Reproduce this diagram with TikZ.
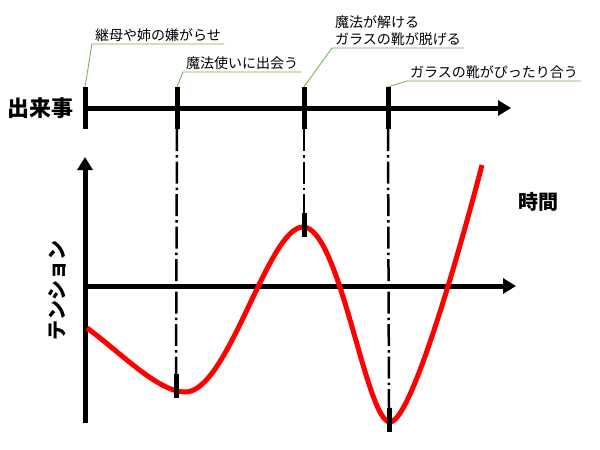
\documentclass[tikz,border=0pt]{standalone}
\usepackage{fontspec}
\usepackage{tikz}
\usetikzlibrary{arrows.meta}
\newfontfamily\jpfont{Noto Sans CJK JP}
\definecolor{leadgreen}{RGB}{112,173,71}
\definecolor{curvered}{RGB}{255,0,0}

\begin{document}
\begin{tikzpicture}[
  x=1pt, y=-1pt,
  axis/.style={line width=5pt, -{Triangle[length=13pt,width=15pt]}},
  tickmark/.style={rectangle, fill=black, inner sep=0pt, minimum width=5pt, minimum height=42pt},
  curvetick/.style={rectangle, fill=black, inner sep=0pt, minimum width=5pt, minimum height=24pt},
  event/.style={anchor=south west, inner xsep=3pt, inner ysep=2pt, align=left, font=\jpfont\fontsize{14}{17}\selectfont},
  leader/.style={draw=leadgreen, line width=0.8pt},
  guide/.style={line width=2.5pt, dash pattern=on 22pt off 4pt on 2.5pt off 4pt},
  title/.style={font=\jpfont\bfseries\fontsize{22}{26}\selectfont},
  curveline/.style={draw=curvered, line width=5pt}
]
\useasboundingbox (0,0) rectangle (600,450);

% Top row - Timeline
\node[title] (events) at (41,108) {出来事};
\node[tickmark] (t1) at (85,108) {};
\node[tickmark] (t2) at (177,108) {};
\node[tickmark] (t3) at (304,108) {};
\node[tickmark] (t4) at (388,108) {};
\coordinate (tend) at (511,108);
\draw[axis] (t1.center) -- (tend);

% Event labels
\node[event] (l1) at (92,44) {継母や姉の嫌がらせ};
\node[event] (l2) at (183,72) {魔法使いに出会う};
\node[event] (l3) at (332,48) {魔法が解ける\\ガラスの靴が脱げる};
\node[event] (l4) at (407,81) {ガラスの靴がぴったり合う};
\draw[leader] (t1.north) -- (l1.south west) -- (l1.south east);
\draw[leader] (t2.north) -- (l2.south west) -- (l2.south east);
\draw[leader] (t3.north) -- (l3.south west) -- (l3.south east);
\draw[leader] (t4.north) -- (l4.south west) -- (l4.south east);

% Bottom - Tension graph
\coordinate (o) at (85,286);
\coordinate (ytop) at (85,157);
\coordinate (ybot) at (85,423);
\coordinate (xend) at (516,286);
\draw[axis] (ybot) -- (ytop);
\draw[axis] (o) -- (xend);
\node[title, font=\jpfont\bfseries\fontsize{20}{24}\selectfont] (time) at (538,202) {時間};
\node[title, font=\jpfont\bfseries\fontsize{20}{24}\selectfont, rotate=90] (tens) at (57,290) {テンション};

\draw[curveline] (87,328) .. controls (120,352) and (158,392) .. (185,392)
  .. controls (228,393) and (268,227) .. (303,227)
  .. controls (340,227) and (366,422) .. (390,422)
  .. controls (412,422) and (463,238) .. (482,165);

% Curve ticks
\node[curvetick] (c2) at (176,386) {};
\node[curvetick] (c3) at (304,225) {};
\node[curvetick] (c4) at (389,420) {};
\draw[guide] (t2.south) -- (c2.north);
\draw[guide] (t3.south) -- (c3.north);
\draw[guide] (t4.south) -- (c4.north);

\end{tikzpicture}
\end{document}
